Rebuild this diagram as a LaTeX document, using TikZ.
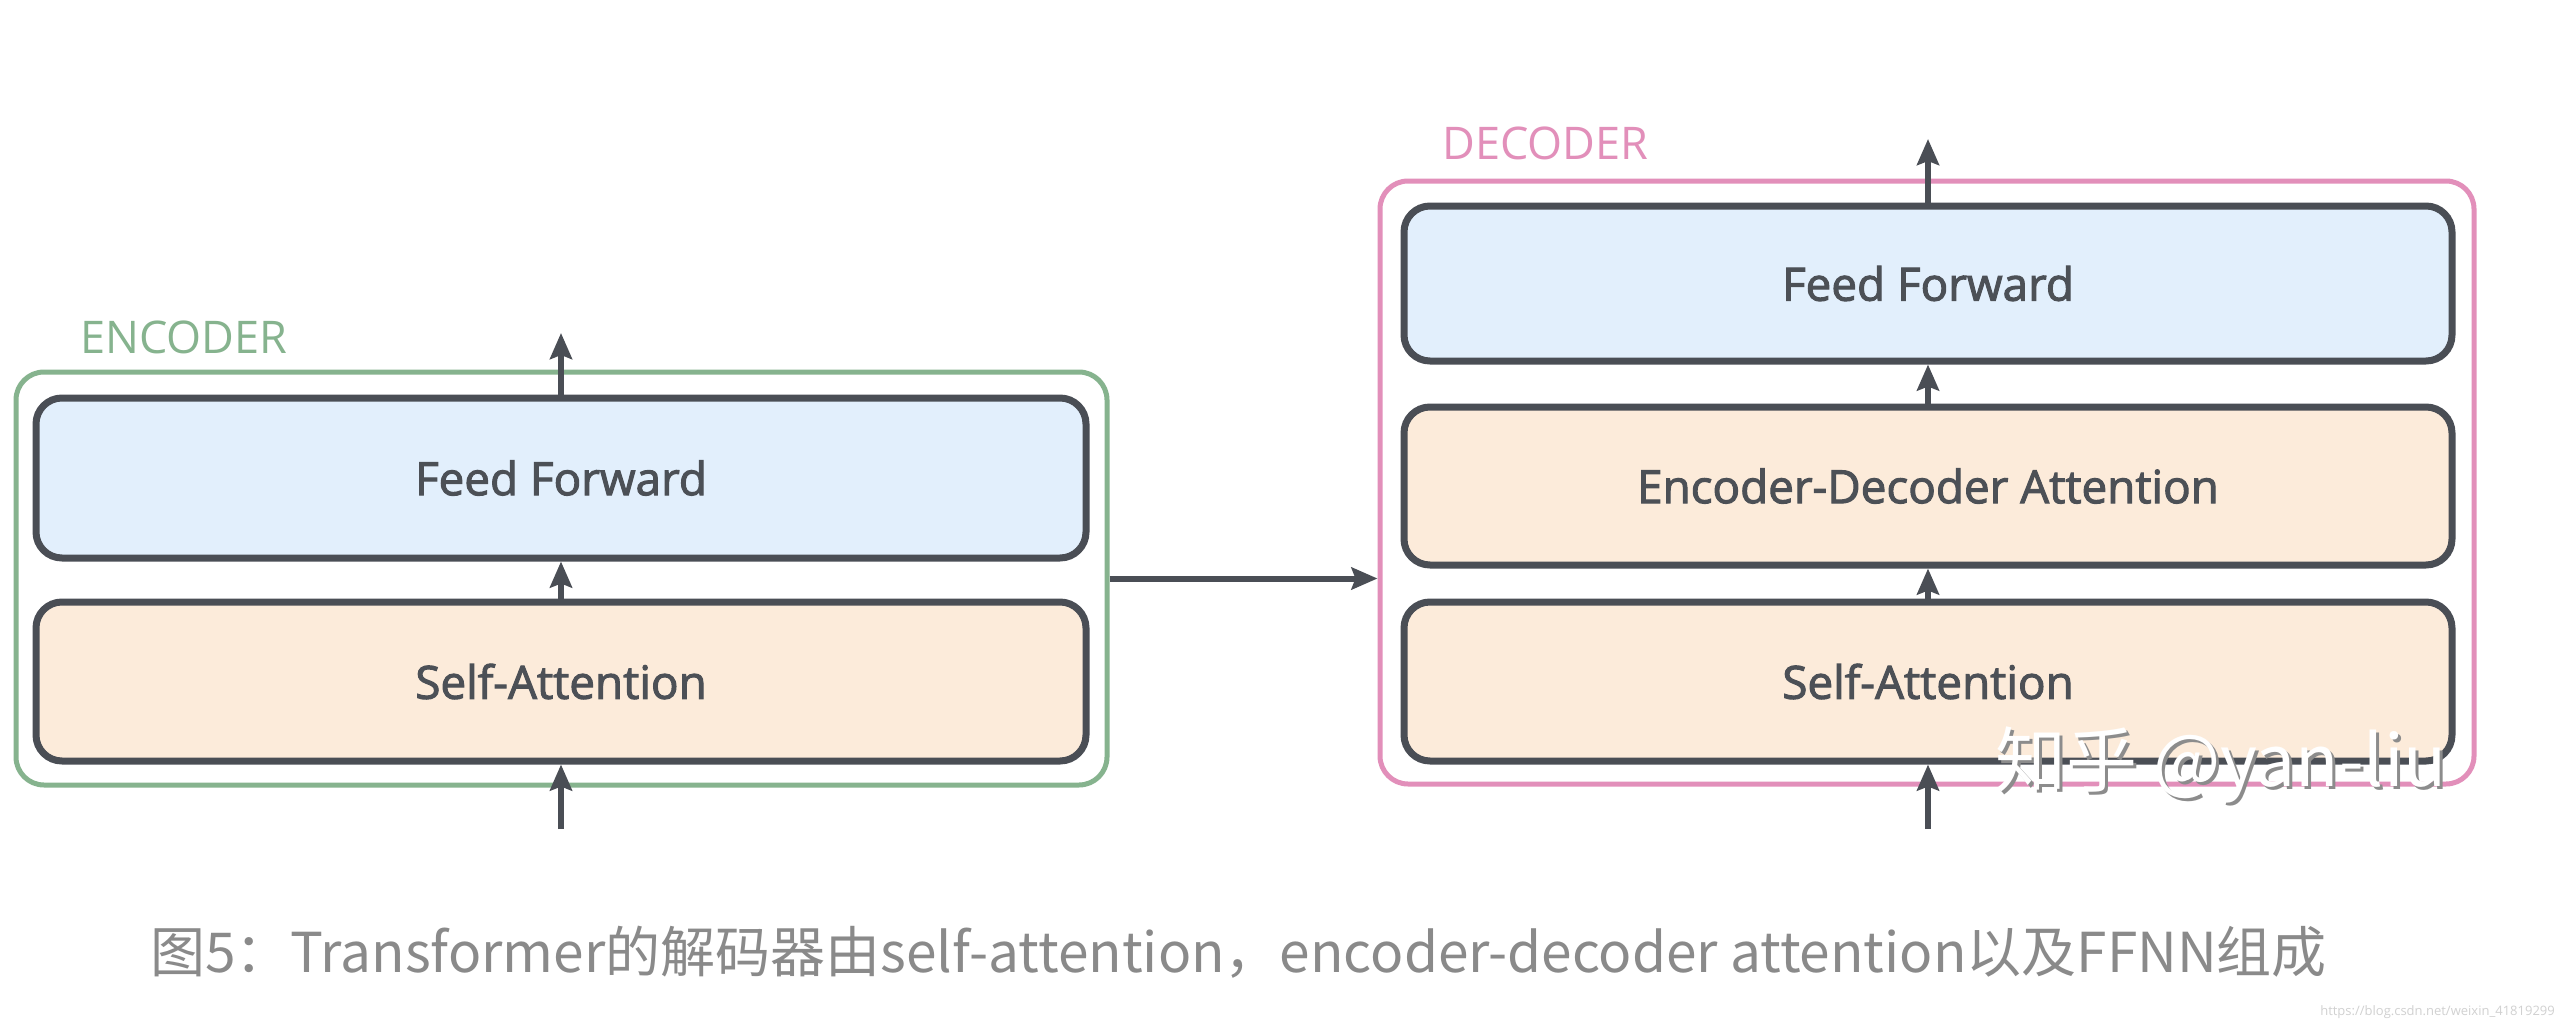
\documentclass[tikz,border=0pt]{standalone}
\usepackage{fontspec}
\setmainfont{Open Sans}
\newfontfamily\boxfont{Open Sans}[FakeBold=2.2]
\newfontfamily\cjk{Noto Sans CJK SC}
\usetikzlibrary{arrows.meta}
\definecolor{strokec}{HTML}{4A4E55}
\definecolor{ffblue}{HTML}{E2EFFC}
\definecolor{sapeach}{HTML}{FCEBDA}
\definecolor{encgreen}{HTML}{86B38E}
\definecolor{decpink}{HTML}{E28FBA}
\definecolor{txtc}{HTML}{4C5056}
\definecolor{capc}{HTML}{8A8A8A}
\tikzset{
  layer/.style={draw=strokec, line width=7pt, rounded corners=26pt, text=txtc,
    font=\boxfont\fontsize{45.8}{50}\selectfont, inner sep=0pt},
  ffbox/.style={layer, fill=ffblue},
  attbox/.style={layer, fill=sapeach},
  outerbox/.style={line width=5pt, rounded corners=28pt, inner sep=0pt},
  flow/.style={draw=strokec, line width=6pt, -{Stealth[length=26pt,width=22pt,inset=4pt]}},
  grouplabel/.style={anchor=west, inner sep=0pt, font=\fontsize{45}{50}\selectfont}
}
\begin{document}
\begin{tikzpicture}[x=1pt,y=-1pt]
\useasboundingbox (0,0) rectangle (2560,1030);
\fill[white] (0,0) rectangle (2560,1030);

% encoder
\node[outerbox, draw=encgreen, minimum width=1091pt, minimum height=413pt] (enc) at (561.5,578.5) {};
\node[ffbox, minimum width=1050pt, minimum height=160pt] (eff) at (561,478) {Feed Forward};
\node[attbox, minimum width=1050pt, minimum height=159pt] (esa) at (561,681.5) {Self-Attention};
\node[grouplabel, text=encgreen] (enclabel) at (80,337) {ENCODER};

% decoder
\node[outerbox, draw=decpink, minimum width=1094pt, minimum height=603pt] (dec) at (1927,482.5) {};
\node[ffbox, minimum width=1048pt, minimum height=155pt] (dff) at (1928,283.5) {Feed Forward};
\node[attbox, minimum width=1048pt, minimum height=158pt] (deda) at (1928,486) {Encoder-Decoder Attention};
\node[attbox, minimum width=1048pt, minimum height=159pt] (dsa) at (1928,681.5) {Self-Attention};
\node[grouplabel, text=decpink] (declabel) at (1442,143) {DECODER};

% connectors
\coordinate (eout) at (561,333);
\coordinate (ein) at (561,829);
\coordinate (dout) at (1928,139);
\coordinate (din) at (1928,829);
\draw[flow] (eff.north) -- (eout);
\draw[flow] (esa.north) -- (eff.south);
\draw[flow] (ein) -- (esa.south);
\draw[flow] (dff.north) -- (dout);
\draw[flow] (deda.north) -- (dff.south);
\draw[flow] (dsa.north) -- (deda.south);
\draw[flow] (din) -- (dsa.south);
\draw[flow] (enc.east) -- (dec.west |- enc.east);

% watermark
\node[font=\cjk\fontsize{71}{76}\selectfont, text=black!45] (wm2) at (2224,768) {知乎 @yan-liu};
\node[font=\cjk\fontsize{71}{76}\selectfont, text=white] (wm) at (2221,765) {知乎 @yan-liu};

% caption
\node[anchor=west, inner sep=0pt, text=capc, font=\cjk\fontsize{55}{60}\selectfont] (cap) at (150,952)
  {图5：Transformer的解码器由self-attention，encoder-decoder attention以及FFNN组成};
\node[anchor=east, inner sep=0pt, text=black!18, font=\fontsize{13}{15}\selectfont] (url) at (2555,1012)
  {https://blog.csdn.net/weixin\_41819299};
\end{tikzpicture}
\end{document}
